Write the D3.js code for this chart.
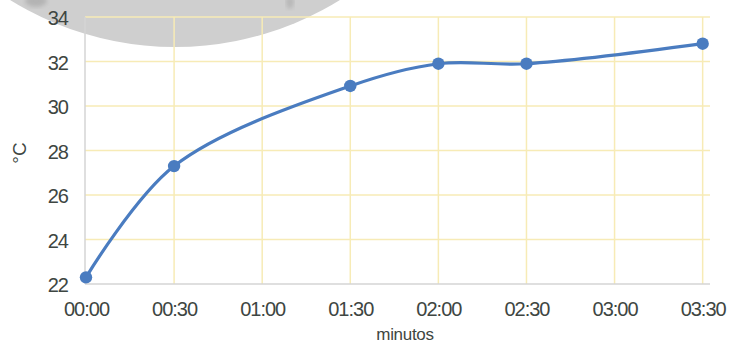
<!DOCTYPE html>
<html>
<head>
<meta charset="utf-8">
<script src="https://cdn.jsdelivr.net/npm/d3@7/dist/d3.min.js"></script>
<style>
  html, body { margin: 0; padding: 0; background: #fff; }
  svg { display: block; }
  text { font-family: "Liberation Sans", Arial, sans-serif; fill: #3e4642; }
</style>
</head>
<body>
<svg id="chart" width="739" height="346"></svg>
<script>
// Temperature readings over elapsed time (minutes)
const minutes = [0, 30, 90, 120, 150, 210];
const temps = [22.3, 27.3, 30.9, 31.9, 31.9, 32.8];

// Axis ticks
const xTickMinutes = [0, 30, 60, 90, 120, 150, 180, 210];
const xTickLabels = ["00:00", "00:30", "01:00", "01:30", "02:00", "02:30", "03:00", "03:30"];
const yTicks = [22, 24, 26, 28, 30, 32, 34];

const svg = d3.select("#chart");
const plot = { left: 85, right: 710, top: 17, bottom: 284 };

const x = d3.scaleLinear().domain([0, 212.5]).range([plot.left + 1, plot.right]);
const y = d3.scaleLinear().domain([22, 34]).range([plot.bottom, plot.top]);

// Grey overlay disc across the top
svg.append("circle")
  .attr("cx", 175).attr("cy", -266).attr("r", 313)
  .attr("fill", "#cfcfcf");

const defs = svg.append("defs");
defs.append("filter").attr("id", "soft")
  .append("feGaussianBlur").attr("stdDeviation", 2);
svg.append("ellipse").attr("cx", 36).attr("cy", 1).attr("rx", 11).attr("ry", 6)
  .attr("fill", "#b4b4b4").attr("filter", "url(#soft)");
svg.append("ellipse").attr("cx", 290).attr("cy", 2).attr("rx", 4).attr("ry", 7)
  .attr("fill", "#b8b8b8").attr("filter", "url(#soft)");

// Gridlines
const grid = svg.append("g").attr("stroke", "#f7ebb6").attr("stroke-width", 1.5);
grid.selectAll("line.h").data(yTicks.filter(d => d !== 22)).join("line")
  .attr("x1", plot.left).attr("x2", plot.right)
  .attr("y1", d => y(d)).attr("y2", d => y(d));
grid.selectAll("line.v").data(xTickMinutes.slice(1)).join("line")
  .attr("x1", d => x(d)).attr("x2", d => x(d))
  .attr("y1", plot.top).attr("y2", plot.bottom);

// Axis lines
svg.append("line").attr("x1", plot.left).attr("x2", plot.left)
  .attr("y1", plot.top).attr("y2", plot.bottom)
  .attr("stroke", "#d4d4d4").attr("stroke-width", 1.5);
svg.append("line").attr("x1", plot.left).attr("x2", plot.right)
  .attr("y1", plot.bottom).attr("y2", plot.bottom)
  .attr("stroke", "#d4d4d4").attr("stroke-width", 1.5);

// Y axis labels
const yAxis = d3.axisLeft(y).tickValues(yTicks).tickSize(0).tickPadding(0);
const gy = svg.append("g").attr("transform", `translate(${plot.left - 17},0)`).call(yAxis);
gy.select(".domain").remove();
gy.selectAll("text").attr("font-size", 20).attr("letter-spacing", -1)
  .attr("dy", "0.38em").attr("font-family", null).attr("fill", null);

// X axis labels
const xAxis = d3.axisBottom(x).tickValues(xTickMinutes)
  .tickFormat((d, i) => xTickLabels[i]).tickSize(0).tickPadding(0);
const gx = svg.append("g").attr("transform", `translate(0,${plot.bottom + 18})`).call(xAxis);
gx.select(".domain").remove();
gx.selectAll("text").attr("font-size", 20).attr("letter-spacing", -1)
  .attr("dy", "0.71em").attr("font-family", null).attr("fill", null);

// Axis titles
svg.append("text").attr("x", 405).attr("y", 340).attr("text-anchor", "middle")
  .attr("font-size", 17).attr("letter-spacing", -0.3).text("minutos");
svg.append("text").attr("transform", "translate(26,153) rotate(-90)")
  .attr("text-anchor", "middle").attr("font-size", 19).text("°C");

// Series line and points
const pts = minutes.map((m, i) => [m, temps[i]]);
const line = d3.line().x(d => x(d[0])).y(d => y(d[1])).curve(d3.curveCatmullRom.alpha(0.5));
svg.append("path").datum(pts).attr("d", line)
  .attr("fill", "none").attr("stroke", "#4a7cc0").attr("stroke-width", 3.2);
svg.selectAll("circle.pt").data(pts).join("circle").attr("class", "pt")
  .attr("cx", d => x(d[0])).attr("cy", d => y(d[1])).attr("r", 6.2)
  .attr("fill", "#4a7cc0");
</script>
</body>
</html>
